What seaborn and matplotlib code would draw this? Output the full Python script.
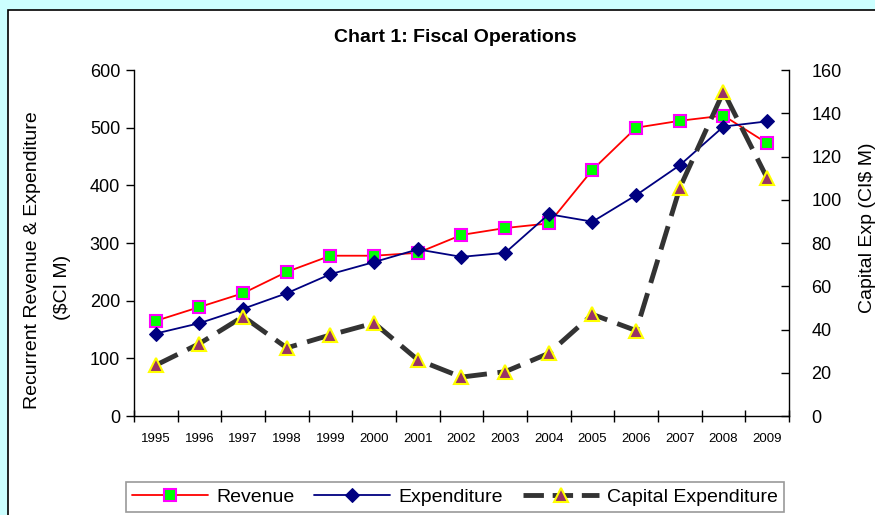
import numpy as np
import pandas as pd
import seaborn as sns
import matplotlib.pyplot as plt
from matplotlib.patches import Rectangle

sns.set_style("ticks")
plt.rcParams['font.family'] = ['Liberation Sans', 'DejaVu Sans']
plt.rcParams['text.color'] = 'black'
plt.rcParams['xtick.color'] = 'black'
plt.rcParams['ytick.color'] = 'black'

# data
years = ['1995', '1996', '1997', '1998', '1999', '2000', '2001', '2002',
         '2003', '2004', '2005', '2006', '2007', '2008', '2009']
revenue = [165, 189, 213, 250, 278, 278, 283, 314, 326, 334, 427, 500, 512, 521, 473]
expenditure = [143, 161, 186, 213, 246, 267, 289, 276, 283, 350, 337, 383, 435, 502, 511]
capital_exp = [23.5, 33.5, 46, 31.5, 37.5, 43, 26, 18, 20.5, 29, 47, 39.5, 105.5, 150, 110]

df = pd.DataFrame({'pos': np.arange(len(years)), 'Revenue': revenue,
                   'Expenditure': expenditure, 'Capital Expenditure': capital_exp})

fig = plt.figure(figsize=(8.75, 5.15), dpi=100, facecolor='#CCFFFF')
# white chart area with black border
fig.patches.append(Rectangle((8 / 875, -0.1), 1.2, 1.1 - 10 / 515, transform=fig.transFigure,
                             facecolor='white', edgecolor='black', lw=1.2, zorder=-5))

ax = fig.add_axes([0.1531, 0.1922, 0.7486, 0.6718])
ax.set_facecolor('none')
ax2 = ax.twinx()
ax2.set_facecolor('none')

sns.lineplot(data=df, x='pos', y='Revenue', ax=ax, color='#FF0000', lw=1.3,
             marker='s', markersize=8, markerfacecolor='#00FF00',
             markeredgecolor='#FF00FF', markeredgewidth=1.5)
sns.lineplot(data=df, x='pos', y='Expenditure', ax=ax, color='#000080', lw=1.3,
             marker='D', markersize=7, markerfacecolor='#000080',
             markeredgecolor='#000080')
sns.lineplot(data=df, x='pos', y='Capital Expenditure', ax=ax2, color='#333333', lw=3.5,
             marker='^', markersize=10, markerfacecolor='#993366',
             markeredgecolor='#FFFF00', markeredgewidth=1.5)
cap_line = ax2.lines[-1]
cap_line.set_dashes([5, 2.2])

ax.set_xlim(-0.5, len(years) - 0.5)
ax.set_ylim(0, 600)
ax2.set_ylim(0, 160)
ax.set_yticks(range(0, 601, 100))
ax2.set_yticks(range(0, 161, 20))

ax.set_xticks(df['pos'])
ax.set_xticklabels(years, fontsize=9.5)
ax.set_xticks(np.arange(-0.5, len(years), 1), minor=True)
ax.tick_params(axis='x', which='major', length=0, pad=12)
ax.tick_params(axis='x', which='minor', length=8, direction='inout', width=1)
ax.tick_params(axis='y', labelsize=13, length=6, direction='out', width=1, pad=4)
ax2.tick_params(axis='y', labelsize=13, length=6, direction='in', width=1, pad=16)

for s in ['top', 'right']:
    ax.spines[s].set_visible(False)
for s in ['top', 'left', 'bottom']:
    ax2.spines[s].set_visible(False)
for a in (ax, ax2):
    for s in a.spines.values():
        s.set_color('black')
        s.set_linewidth(1)
ax.set_xlabel('')
ax.set_ylabel('')
ax2.set_ylabel('')

fig.text(0.52, 1 - 38 / 515, 'Chart 1: Fiscal Operations', ha='center', va='center',
         fontsize=14, fontweight='bold')
fig.text(33 / 875, 1 - 260 / 515, 'Recurrent Revenue & Expenditure', rotation=90,
         ha='center', va='center', fontsize=14)
fig.text(63 / 875, 1 - 287 / 515, '($CI M)', rotation=90,
         ha='center', va='center', fontsize=14)
fig.text(868 / 875, 1 - 228 / 515, 'Capital Exp (CI$ M)', rotation=90,
         ha='center', va='center', fontsize=14)

handles = [ax.lines[0], ax.lines[1], cap_line]
leg = fig.legend(handles, ['Revenue', 'Expenditure', 'Capital Expenditure'],
                 loc='center', bbox_to_anchor=(455 / 875, 1 - 497 / 515), ncol=3,
                 fontsize=14, frameon=True, fancybox=False, handlelength=3.9,
                 columnspacing=1.0, handletextpad=0.45, borderpad=0.3,
                 borderaxespad=0)
leg.get_frame().set_edgecolor('#808080')
leg.get_frame().set_linewidth(1.2)
leg.get_lines()[2].set_dashes([4.2, 1.8])

plt.savefig('out.png', dpi=100, facecolor=fig.get_facecolor())
